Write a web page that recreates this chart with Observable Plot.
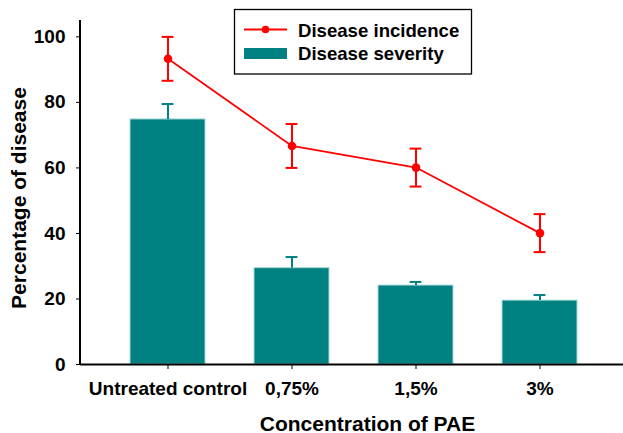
<!DOCTYPE html>
<html>
<head>
<meta charset="utf-8">
<script src="https://cdn.jsdelivr.net/npm/d3@7"></script>
<script src="https://cdn.jsdelivr.net/npm/@observablehq/plot@0.6"></script>
<style>
  html, body { margin: 0; padding: 0; background: #fff; }
  #wrap { position: relative; width: 623px; height: 433px; }
  #legend { position: absolute; left: 0; top: 0; pointer-events: none; }
</style>
</head>
<body>
<div id="wrap"></div>
<script>
const categories = ["Untreated control", "0,75%", "1,5%", "3%"];
const severity = [74.8, 29.4, 24.1, 19.5];
const severityErr = [4.7, 3.4, 1.1, 1.7];
const incidence = [93.3, 66.7, 60.1, 40.1];
const incidenceErr = [6.7, 6.7, 5.8, 5.8];
const yTicks = [0, 20, 40, 60, 80, 100];
const seriesNames = ["Disease incidence", "Disease severity"];
const xTitle = "Concentration of PAE";
const yTitle = "Percentage of disease";

const sevData = categories.map((c, i) => ({cat: c, value: severity[i], hi: severity[i] + severityErr[i]}));
const incData = categories.map((c, i) => ({cat: c, value: incidence[i], lo: incidence[i] - incidenceErr[i], hi: incidence[i] + incidenceErr[i]}));

const teal = "#008080";
const red = "#ff0000";
const font = "'Liberation Sans', Arial, sans-serif";

const yAxisLine = (index, scales, values, dims) => {
  const line = document.createElementNS("http://www.w3.org/2000/svg", "line");
  line.setAttribute("x1", dims.marginLeft);
  line.setAttribute("x2", dims.marginLeft);
  line.setAttribute("y1", dims.marginTop);
  line.setAttribute("y2", dims.height - dims.marginBottom);
  line.setAttribute("stroke", "black");
  line.setAttribute("stroke-width", 2);
  return line;
};

const chart = Plot.plot({
  width: 623,
  height: 433,
  marginLeft: 80,
  marginRight: 0,
  marginTop: 20,
  marginBottom: 69,
  style: {fontFamily: font, fontWeight: "bold", fontSize: "19px", color: "black", background: "white"},
  x: {type: "band", domain: categories, paddingInner: 0.394, paddingOuter: 0.381, align: 0.524,
      tickSize: 5, tickPadding: 12, label: null},
  y: {domain: [0, 105], ticks: yTicks, tickSize: 4, tickPadding: 11, label: null},
  marks: [
    Plot.barY(sevData, {x: "cat", y: "value", fill: teal, stroke: "#a6d9d9", strokeWidth: 1}),
    Plot.ruleX(sevData, {x: "cat", y1: "value", y2: "hi", stroke: teal, strokeWidth: 2}),
    Plot.tickY(sevData, {x: "cat", y: "hi", stroke: teal, strokeWidth: 2, insetLeft: 31.6, insetRight: 31.6}),
    Plot.line(incData, {x: "cat", y: "value", stroke: red, strokeWidth: 1.75}),
    Plot.ruleX(incData, {x: "cat", y1: "lo", y2: "hi", stroke: red, strokeWidth: 2}),
    Plot.tickY(incData, {x: "cat", y: "hi", stroke: red, strokeWidth: 2, insetLeft: 31.6, insetRight: 31.6}),
    Plot.tickY(incData, {x: "cat", y: "lo", stroke: red, strokeWidth: 2, insetLeft: 31.6, insetRight: 31.6}),
    Plot.dot(incData, {x: "cat", y: "value", fill: red, r: 4.3}),
    Plot.ruleY([0], {stroke: "black", strokeWidth: 2}),
    yAxisLine,
    Plot.text([xTitle], {frameAnchor: "bottom", textAnchor: "middle", lineAnchor: "bottom", dx: 15.5, dy: 66, fontSize: 21, fontWeight: "bold", fill: "black"}),
    Plot.text([yTitle], {frameAnchor: "left", textAnchor: "middle", lineAnchor: "bottom", rotate: -90, dx: -54.5, dy: 5.5, fontSize: 21, fontWeight: "bold", fill: "black"})
  ]
});

const wrap = document.getElementById("wrap");
wrap.appendChild(chart);

// Legend
const lg = d3.create("svg").attr("id", "legend").attr("width", 623).attr("height", 80);
lg.append("rect").attr("x", 234.5).attr("y", 9.5).attr("width", 237).attr("height", 64.5)
  .attr("fill", "white").attr("stroke", "black").attr("stroke-width", 1.3);
lg.append("line").attr("x1", 244).attr("x2", 287).attr("y1", 29.5).attr("y2", 29.5)
  .attr("stroke", red).attr("stroke-width", 2);
lg.append("circle").attr("cx", 265.5).attr("cy", 29.5).attr("r", 3.8).attr("fill", red);
lg.append("rect").attr("x", 244).attr("y", 48).attr("width", 43).attr("height", 11).attr("fill", teal);
lg.selectAll("text.lab").data(seriesNames).join("text")
  .attr("x", 298).attr("y", (d, i) => i === 0 ? 36.5 : 60)
  .attr("font-family", font).attr("font-weight", "bold").attr("font-size", 18.6).attr("fill", "black")
  .text(d => d);
wrap.appendChild(lg.node());
</script>
</body>
</html>
